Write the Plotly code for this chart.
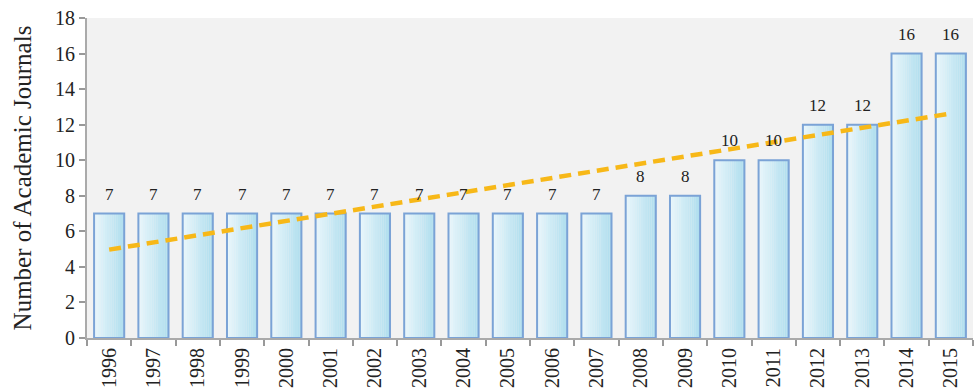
import numpy as np
import plotly.graph_objects as go

years = [str(y) for y in range(1996, 2016)]
journals = [7, 7, 7, 7, 7, 7, 7, 7, 7, 7, 7, 7, 8, 8, 10, 10, 12, 12, 16, 16]
y_ticks = list(range(0, 19, 2))

# Linear trend fitted to the yearly counts
idx = np.arange(len(journals))
slope, intercept = np.polyfit(idx, journals, 1)
trend = slope * idx + intercept

fig = go.Figure()

# Horizontal gradient inside each bar, built from thin overlaid slices
bar_w = 0.68
n_slices = 14
c0 = np.array([232, 246, 251])
c1 = np.array([176, 222, 238])
for k in range(n_slices):
    t = k / (n_slices - 1)
    r, g, b = (c0 + (c1 - c0) * t).round().astype(int)
    fig.add_trace(go.Bar(
        x=years, y=journals,
        width=bar_w / n_slices + 0.002,
        offset=-bar_w / 2 + k * bar_w / n_slices,
        marker=dict(color=f"rgb({r},{g},{b})", line=dict(width=0)),
        hoverinfo="skip", showlegend=False,
    ))

# Bar outlines
fig.add_trace(go.Bar(
    x=years, y=journals,
    width=bar_w, offset=-bar_w / 2,
    marker=dict(color="rgba(0,0,0,0)", line=dict(color="#7ba3d6", width=2)),
    showlegend=False,
))

fig.add_trace(go.Scatter(
    x=years, y=trend, mode="lines",
    line=dict(color="#f7b818", width=4.5, dash="12px,7px"),
    showlegend=False,
))

# Value labels above each bar (x given as category index)
for i, v in enumerate(journals):
    fig.add_annotation(
        x=i, y=v, text=str(v), showarrow=False,
        xref="x", yref="y",
        yanchor="bottom", yshift=8,
        font=dict(family="Liberation Serif", size=17, color="#222"),
    )

fig.update_layout(
    width=974, height=388,
    margin=dict(l=87, r=1, t=18, b=50),
    barmode="overlay",
    paper_bgcolor="white",
    plot_bgcolor="#f2f2f2",
    font=dict(family="Liberation Serif", color="#222"),
    xaxis=dict(
        type="category", tickangle=-90, tickson="boundaries",
        ticks="outside", ticklen=6, tickcolor="#999", tickwidth=1.5,
        showline=True, linecolor="#aaa", linewidth=2,
        showgrid=False, tickfont=dict(size=20, family="Liberation Serif"),
        range=[-0.5, len(years) - 0.5],
    ),
    yaxis=dict(
        range=[0, 18], tickvals=y_ticks, showgrid=False, zeroline=False,
        ticks="outside", ticklen=6, tickcolor="#999", tickwidth=1.5,
        showline=True, linecolor="#aaa", linewidth=2,
        tickfont=dict(size=20, family="Liberation Serif"),
        title=dict(text="Number of Academic Journals",
                   font=dict(size=25, family="Liberation Serif"), standoff=16),
    ),
)

fig.write_html("out.html")
